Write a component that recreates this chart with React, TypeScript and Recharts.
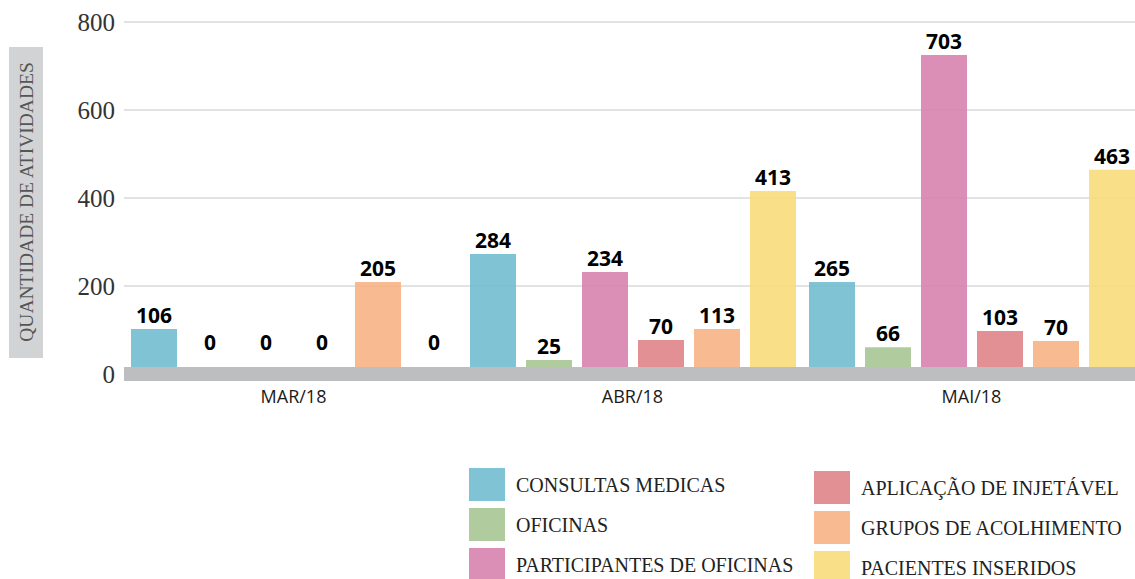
import React from 'react'
import { BarChart, Bar, XAxis, YAxis, CartesianGrid, Legend, LabelList } from 'recharts'

const months = ['MAR/18', 'ABR/18', 'MAI/18']

// bar heights as drawn in the picture
const consultas = [102, 273, 209]
const oficinas = [0, 32, 61]
const participantes = [0, 232, 725]
const aplicacao = [0, 77, 98]
const grupos = [209, 102, 75]
const pacientes = [0, 416, 464]

// numbers printed above the bars
const consultasLbl = [106, 284, 265]
const oficinasLbl = [0, 25, 66]
const participantesLbl = [0, 234, 703]
const aplicacaoLbl = [0, 70, 103]
const gruposLbl = [205, 113, 70]
const pacientesLbl = [0, 413, 463]

const yTicks = [0, 200, 400, 600, 800]

const series = [
  { key: 'cm', name: 'CONSULTAS MEDICAS', color: '#71bdcf', values: consultas, labels: consultasLbl },
  { key: 'of', name: 'OFICINAS', color: '#a7c695', values: oficinas, labels: oficinasLbl },
  { key: 'po', name: 'PARTICIPANTES DE OFICINAS', color: '#d783ae', values: participantes, labels: participantesLbl },
  { key: 'ai', name: 'APLICAÇÃO DE INJETÁVEL', color: '#e08489', values: aplicacao, labels: aplicacaoLbl },
  { key: 'ga', name: 'GRUPOS DE ACOLHIMENTO', color: '#f6b285', values: grupos, labels: gruposLbl },
  { key: 'pi', name: 'PACIENTES INSERIDOS', color: '#f8db7b', values: pacientes, labels: pacientesLbl },
]

const data = months.map((month, i) => {
  const row: Record<string, string | number> = { month }
  series.forEach((s) => {
    row[s.key] = s.values[i]
    row[s.key + 'Lbl'] = s.labels[i]
  })
  return row
})

const serif = '"Liberation Serif", "DejaVu Serif", serif'
const sans = '"Open Sans", "Noto Sans", sans-serif'

function ValueLabel(props: any) {
  const { x, y, width, value } = props
  // zero bars sit under the grey base band, so lift their label above it
  const base = Number(value) === 0 ? y - 22 : y - 6
  return (
    <text
      x={x + width / 2}
      y={base}
      textAnchor="middle"
      fontFamily={sans}
      fontWeight={700}
      fontSize={21}
      fill="#000"
    >
      {value}
    </text>
  )
}

function YTitle(props: any) {
  const vb = props.viewBox || {}
  const cx = vb.x + 17
  const cy = vb.y + vb.height / 2 + 4
  return (
    <g>
      <rect x={vb.x} y={cy - 155} width={34} height={311} fill="#d1d3d4" />
      <text
        x={cx}
        y={cy}
        transform={`rotate(-90 ${cx} ${cy})`}
        textAnchor="middle"
        dominantBaseline="central"
        fontFamily={serif}
        fontSize={19.5}
        fill="#555"
      >
        QUANTIDADE DE ATIVIDADES
      </text>
    </g>
  )
}

function LegendBox() {
  return (
    <div
      style={{
        display: 'grid',
        gridTemplateRows: 'repeat(3, 40px)',
        gridTemplateColumns: '345px 320px',
        gridAutoFlow: 'column',
      }}
    >
      {series.map((s, idx) => (
        <div
          key={s.key}
          style={{ display: 'flex', alignItems: 'flex-start', marginTop: idx > 2 ? 3 : 0 }}
        >
          <span style={{ width: 36, height: 33, background: s.color, opacity: 0.9, flex: 'none' }} />
          <span
            style={{
              marginLeft: 11,
              marginTop: 6,
              fontFamily: serif,
              fontSize: 20,
              color: '#222',
              whiteSpace: 'nowrap',
            }}
          >
            {s.name}
          </span>
        </div>
      ))}
    </div>
  )
}

export default function App() {
  return (
    <div style={{ position: 'absolute', left: 0, top: 0, width: 1135, height: 579, overflow: 'hidden', background: '#fff' }}>
      <BarChart
        width={1145}
        height={579}
        data={data}
        margin={{ top: 22, right: 4, left: 9, bottom: 165 }}
        barSize={46}
        barGap={10}
      >
        <CartesianGrid vertical={false} stroke="#c6c6c6" strokeWidth={1} />
        <YAxis
          domain={[0, 800]}
          ticks={yTicks}
          width={115}
          axisLine={false}
          tickLine={false}
          tickSize={0}
          tickMargin={9}
          tick={{ fontFamily: serif, fontSize: 25, fill: '#333' }}
          label={<YTitle />}
        />
        {series.map((s) => (
          <Bar
            key={s.key}
            dataKey={s.key}
            name={s.name}
            fill={s.color}
            fillOpacity={0.9}
            minPointSize={2}
            isAnimationActive={false}
          >
            <LabelList dataKey={s.key + 'Lbl'} content={<ValueLabel />} />
          </Bar>
        ))}
        <XAxis
          dataKey="month"
          axisLine={{ stroke: '#bdbec0', strokeWidth: 14 }}
          tickLine={false}
          tickSize={0}
          tickMargin={16}
          height={40}
          tick={{ fontFamily: sans, fontSize: 18, fill: '#1a1a1a' }}
        />
        <Legend
          layout="horizontal"
          verticalAlign="middle"
          align="center"
          wrapperStyle={{ top: 468, left: 469, width: 670 }}
          content={<LegendBox />}
        />
      </BarChart>
    </div>
  )
}
